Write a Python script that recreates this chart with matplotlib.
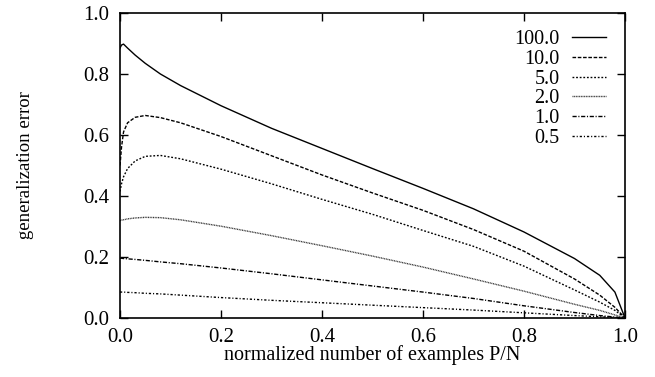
import numpy as np
import matplotlib.pyplot as plt

# valori
x = [0, 0.003, 0.007, 0.015, 0.03, 0.05, 0.08, 0.12, 0.2, 0.3, 0.4, 0.5,
     0.6, 0.7, 0.8, 0.9, 0.95, 0.98, 1.0]

err_100 = [0.885, 0.895, 0.898, 0.885, 0.862, 0.835, 0.80, 0.762, 0.696, 0.622,
           0.556, 0.49, 0.425, 0.358, 0.282, 0.195, 0.14, 0.085, 0.0]
err_10 = [0.50, 0.56, 0.61, 0.64, 0.658, 0.664, 0.657, 0.64, 0.595, 0.532,
          0.469, 0.41, 0.353, 0.29, 0.219, 0.128, 0.075, 0.035, 0.0]
err_5 = [0.415, 0.44, 0.463, 0.49, 0.515, 0.53, 0.533, 0.522, 0.488, 0.44,
         0.389, 0.34, 0.287, 0.235, 0.17, 0.092, 0.052, 0.025, 0.0]
err_2 = [0.319, 0.321, 0.322, 0.325, 0.328, 0.330, 0.329, 0.322, 0.301, 0.27,
         0.237, 0.203, 0.167, 0.128, 0.088, 0.045, 0.025, 0.01, 0.0]
err_1 = [0.196, 0.196, 0.195, 0.194, 0.192, 0.189, 0.184, 0.178, 0.164, 0.145,
         0.125, 0.105, 0.085, 0.064, 0.04, 0.018, 0.008, 0.003, 0.0]
err_05 = [0.085, 0.085, 0.085, 0.084, 0.083, 0.081, 0.079, 0.075, 0.067, 0.058,
          0.05, 0.042, 0.034, 0.026, 0.017, 0.008, 0.004, 0.0015, 0.0]

labels = ['100.0', '10.0', '5.0', '2.0', '1.0', '0.5']
series = [err_100, err_10, err_5, err_2, err_1, err_05]

# stili delle linee (tipo gnuplot)
dashes = [None, (2.6, 1.2), (1.3, 1.3), (0.7, 0.5), (3.0, 1.2, 0.8, 1.2),
          (1.6, 1.4, 0.8, 1.4)]
colors = ['black', 'black', 'black', '#333333', 'black', 'black']

plt.rcParams['font.family'] = ['Liberation Serif', 'DejaVu Serif']

fig = plt.figure(figsize=(6.55, 3.77), dpi=100)
ax = fig.add_axes([120/655, 59/377, 505/655, 305/377])

for y, lab, d, c in zip(series, labels, dashes, colors):
    line, = ax.plot(x, y, color=c, lw=1.0, label=lab)
    if d is not None:
        line.set_dashes(d)

ax.set_xlim(0, 1)
ax.set_ylim(0, 1)
ax.set_xticks(np.arange(0, 1.01, 0.2))
ax.set_yticks(np.arange(0, 1.01, 0.2))
ax.xaxis.set_major_formatter(plt.FormatStrFormatter('%.1f'))
ax.yaxis.set_major_formatter(plt.FormatStrFormatter('%.1f'))
ax.tick_params(direction='in', top=True, right=True, length=6, width=1,
               labelsize=15)
ax.tick_params(axis='x', pad=7)
ax.tick_params(axis='y', pad=8)
for s in ax.spines.values():
    s.set_linewidth(1.2)

ax.set_xlabel('normalized number of examples P/N', fontsize=14.5, labelpad=-1)
ax.set_ylabel('generalization error', fontsize=13.5, labelpad=35)

ax.legend(loc='upper right', bbox_to_anchor=(0.962, 0.944), frameon=False,
          markerfirst=False, fontsize=14.5, handlelength=1.7,
          handletextpad=0.6, labelspacing=0.03, borderaxespad=0, borderpad=0)

fig.savefig('out.png', dpi=100)
